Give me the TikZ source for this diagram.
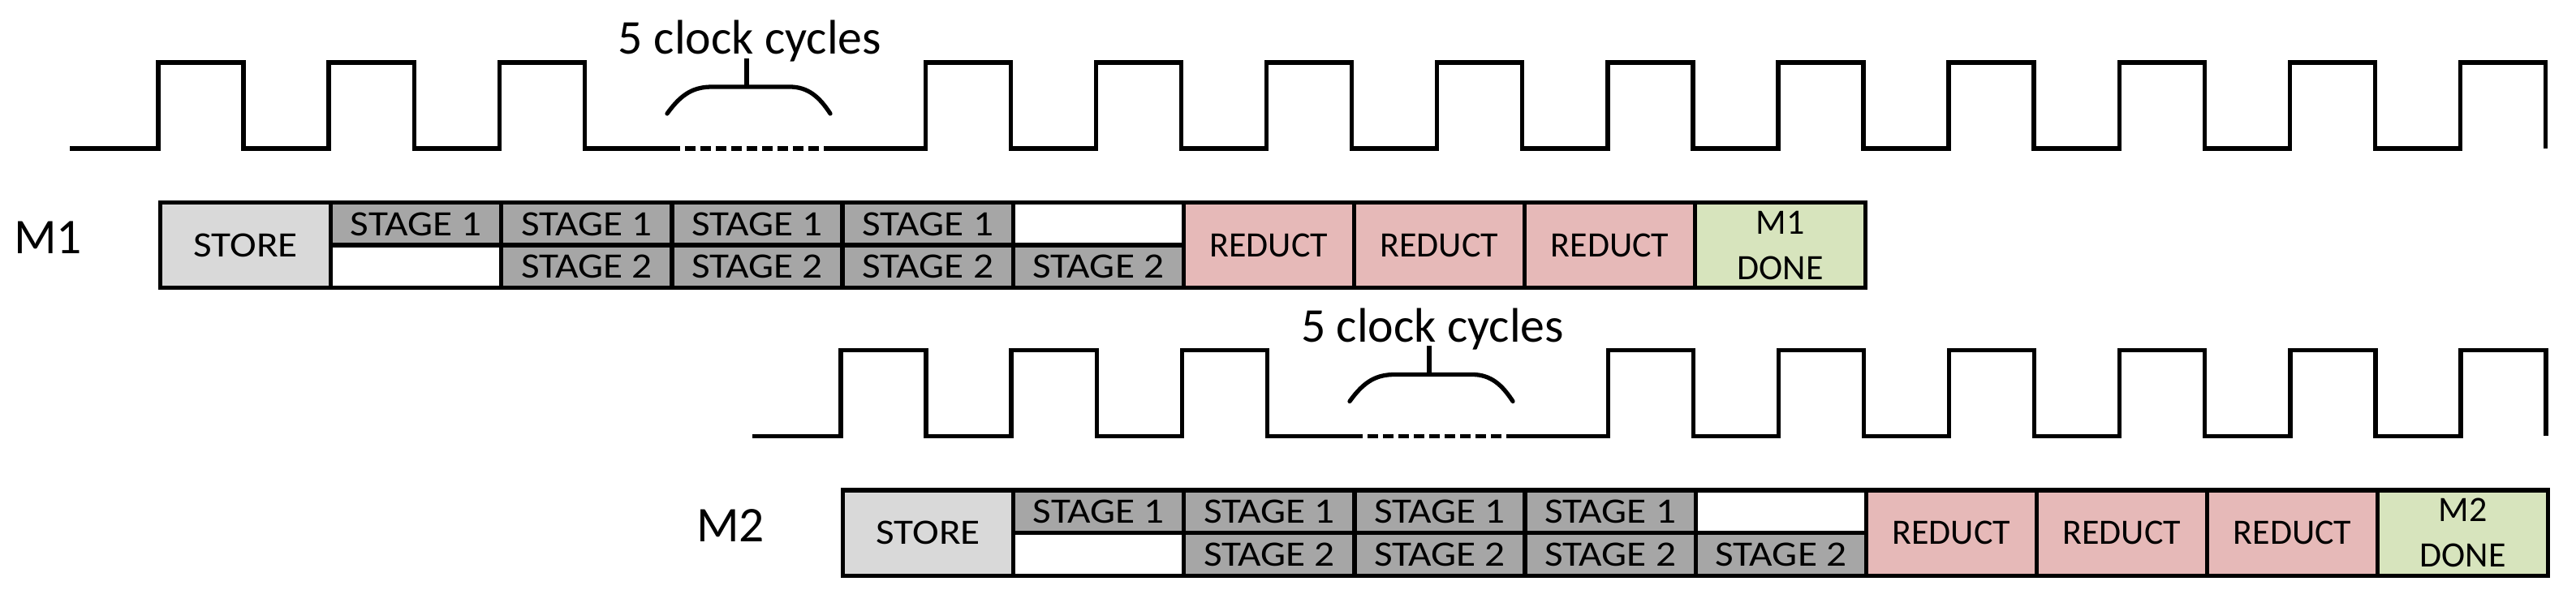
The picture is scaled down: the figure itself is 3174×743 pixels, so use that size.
\documentclass[tikz,border=0pt]{standalone}
\usepackage{fontspec}
\setmainfont{Carlito}
\newfontfamily\widefont[FakeStretch=1.12]{Carlito}
\definecolor{storec}{HTML}{D9D9D9}
\definecolor{stagec}{HTML}{A6A6A6}
\definecolor{reductc}{HTML}{E6B9B8}
\definecolor{donec}{HTML}{D7E4BD}
\tikzset{
  clk/.style={line width=1.5pt, line join=miter},
  cell/.style={draw, line width=1.5pt, anchor=north west, minimum width=2.101cm, inner sep=0pt,
    font=\fontsize{12.5}{16}\selectfont, align=center},
  widecell/.style={cell, font=\widefont\fontsize{12.5}{16}\selectfont},
  fullcell/.style={cell, minimum height=1.05cm},
  halfcell/.style={widecell, minimum height=0.525cm},
  lbl/.style={font=\fontsize{17.5}{20}\selectfont, anchor=base},
  cyc/.style={font=\fontsize{17}{20}\selectfont, anchor=base, inner sep=0pt},
}
\newcommand\MachineRow[3]{%
  % clock before gap
  \draw[clk] (86,183) foreach \k in {0,1,2} {-- ({195+\k*210.1},183) -- ++(0,-106) -- ++(105.05,0) -- ++(0,106)} -- (825,183);
  \draw[clk, dash pattern=on 0.13cm off 0.06cm] (825,183) -- (1027,183);
  \draw[clk] (1027,183) foreach \k in {0,...,#3} {-- ({1140.45+\k*210.1},183) -- ++(0,-106) -- ++(105.05,0) -- ++(0,106)};
  % brace and label
  \node[cyc] (#1cyc) at (924,67) {5 clock cycles};
  \coordinate (#1bt) at (920,107);
  \draw[line width=1.5pt, line cap=round] (822,140) .. controls (840,115) and (855,107) .. (878,107) -- (973,107) .. controls (996,107) and (1010,120) .. (1023,140);
  \draw[line width=1.5pt] (#1bt) -- (920,72);
  % label
  \node[lbl] (#1lbl) at (59,313) {#2};
  % cells
  \node[fullcell, widecell, minimum height=1.05cm, fill=storec] (#1store) at (195,247) {STORE};
  \node[halfcell, fill=stagec] (#1aa) at (405.1,247) {STAGE 1};
  \node[halfcell, fill=white] (#1ab) at (405.1,299.5) {};
  \node[halfcell, fill=stagec] (#1ba) at (615.2,247) {STAGE 1};
  \node[halfcell, fill=stagec] (#1bb) at (615.2,299.5) {STAGE 2};
  \node[halfcell, fill=stagec] (#1ca) at (825.3,247) {STAGE 1};
  \node[halfcell, fill=stagec] (#1cb) at (825.3,299.5) {STAGE 2};
  \node[halfcell, fill=stagec] (#1da) at (1035.4,247) {STAGE 1};
  \node[halfcell, fill=stagec] (#1db) at (1035.4,299.5) {STAGE 2};
  \node[halfcell, fill=white] (#1ea) at (1245.5,247) {};
  \node[halfcell, fill=stagec] (#1eb) at (1245.5,299.5) {STAGE 2};
  \node[fullcell, fill=reductc] (#1ra) at (1455.6,247) {REDUCT};
  \node[fullcell, fill=reductc] (#1rb) at (1665.7,247) {REDUCT};
  \node[fullcell, fill=reductc] (#1rc) at (1875.8,247) {REDUCT};
  \node[fullcell, fill=donec] (#1done) at (2085.9,247) {#2\\DONE};
}
\begin{document}
\begin{tikzpicture}[x=0.01cm, y=-0.01cm]
  \useasboundingbox (0,0) rectangle (3174,743);
  \MachineRow{a}{M1}{9}
  \begin{scope}[shift={(841,354.5)}]
    \MachineRow{b}{M2}{5}
  \end{scope}
\end{tikzpicture}
\end{document}
